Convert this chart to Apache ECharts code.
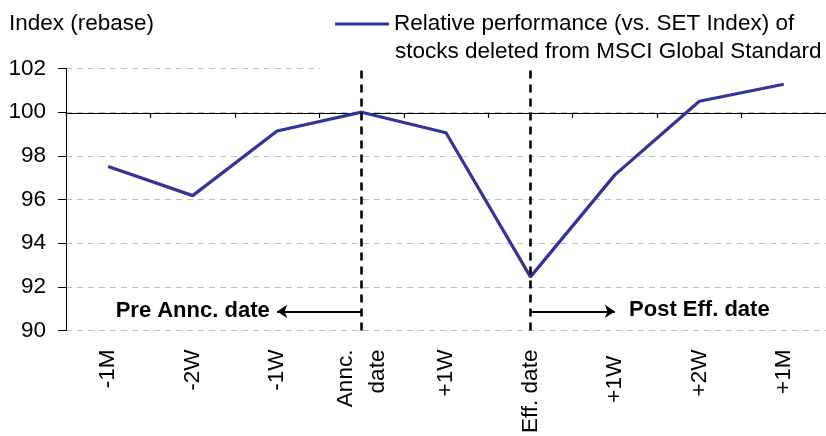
<!DOCTYPE html>
<html>
<head>
<meta charset="utf-8">
<script src="https://cdn.jsdelivr.net/npm/echarts@6/dist/echarts.min.js"></script>
<style>html,body{margin:0;padding:0;background:#fff;overflow:hidden}#c{width:826px;height:436px}</style>
</head>
<body>
<div id="c"></div>
<script>
const categories = ['-1M', '-2W', '-1W', 'Annc.\ndate', '+1W', 'Eff. date', '+1W ', '+2W', '+1M'];
const values = [97.51, 96.18, 99.14, 100.0, 99.06, 92.46, 97.13, 100.5, 101.28];
const yTicks = [90, 92, 94, 96, 98, 100, 102];
const seriesName = 'Relative performance (vs. SET Index) of';
const seriesName2 = 'stocks deleted from MSCI Global Standard';
const yTitle = 'Index (rebase)';
const preLabel = 'Pre Annc. date';
const postLabel = 'Post Eff. date';

const FONT = "'Liberation Sans', Arial, sans-serif";
const chart = echarts.init(document.getElementById('c'), null, {renderer: 'canvas'});
const GT = 68.5, GH = 266;
const option = {
  animation: false,
  title: {
    text: yTitle, left: 9, top: 12, padding: 0,
    textStyle: {fontFamily: FONT, fontSize: 22.5, fontWeight: 'normal', color: '#000'}
  },
  legend: {
    left: 320, top: 0,
    padding: [11, 40, 32, 15],
    backgroundColor: '#fff',
    icon: 'rect', itemWidth: 54, itemHeight: 3,
    itemGap: 0,
    textStyle: {fontFamily: FONT, fontSize: 22.5, color: '#000', lineHeight: 26},
    data: [seriesName]
  },
  graphic: [{
    type: 'text', z: 100, left: 395, top: 40,
    style: {text: seriesName2, font: '22.5px ' + FONT, fill: '#000'}
  }],
  grid: [
    {left: 66, top: GT, width: 769.5, height: GH},
    {left: 66, top: GT, width: 769.5, height: GH * 2 / 12}
  ],
  xAxis: [{
    type: 'category', data: categories, boundaryGap: true, gridIndex: 0,
    axisLine: {show: false}, axisTick: {show: false},
    axisLabel: {rotate: 90, margin: 19, fontFamily: FONT, fontSize: 22.5, color: '#000', lineHeight: 32, interval: 0}
  }, {
    type: 'category', data: categories, boundaryGap: true, gridIndex: 1, position: 'bottom',
    axisLine: {show: true, lineStyle: {color: '#000', width: 1.2}},
    axisTick: {show: true, length: 5, interval: 0, lineStyle: {color: '#000', width: 1.2}},
    axisLabel: {show: false}, splitLine: {show: false}
  }],
  yAxis: [{
    type: 'value', min: 90, max: 102, interval: 2, gridIndex: 0,
    axisLine: {show: true, lineStyle: {color: '#000', width: 1}},
    axisTick: {show: true, length: 8, lineStyle: {color: '#000'}},
    axisLabel: {margin: 20, fontFamily: FONT, fontSize: 22.5, color: '#000',
      formatter: v => yTicks.includes(v) ? String(v) : ''},
    splitLine: {show: true, lineStyle: {color: '#c0c0c0', type: [6, 5], width: 1}}
  }, {
    type: 'value', min: 100, max: 102, gridIndex: 1, show: false
  }],
  series: [{
    name: seriesName, type: 'line', data: values, xAxisIndex: 0, yAxisIndex: 0,
    symbol: 'none', lineStyle: {color: '#333399', width: 3.2}, itemStyle: {color: '#333399'},
    z: 3,
    markLine: {
      silent: true, animation: false,
      symbol: ['none', 'none'],
      label: {show: false},
      data: [
        {xAxis: 3, lineStyle: {color: '#000', type: [8, 6], width: 2.6}},
        {xAxis: 5, lineStyle: {color: '#000', type: [8, 6], width: 2.6}},
        [{coord: [2.85, 90.88], symbol: 'none', lineStyle: {color: '#000', type: 'solid', width: 2}},
         {coord: [2.05, 90.88], symbol: 'arrow', symbolSize: 10}],
        [{coord: [5.08, 90.88], symbol: 'none', lineStyle: {color: '#000', type: 'solid', width: 2}},
         {coord: [5.84, 90.88], symbol: 'arrow', symbolSize: 10}]
      ]
    },
    markPoint: {
      silent: true, symbol: 'circle', symbolSize: 0,
      label: {show: true, position: 'inside', fontFamily: FONT, fontSize: 22, fontWeight: 'bold', color: '#000'},
      data: [
        {coord: [1.0, 90.88], value: preLabel, label: {formatter: preLabel}},
        {coord: [6.89, 90.95], value: postLabel, label: {formatter: postLabel}}
      ]
    }
  }]
};
chart.setOption(option);
</script>
</body>
</html>
